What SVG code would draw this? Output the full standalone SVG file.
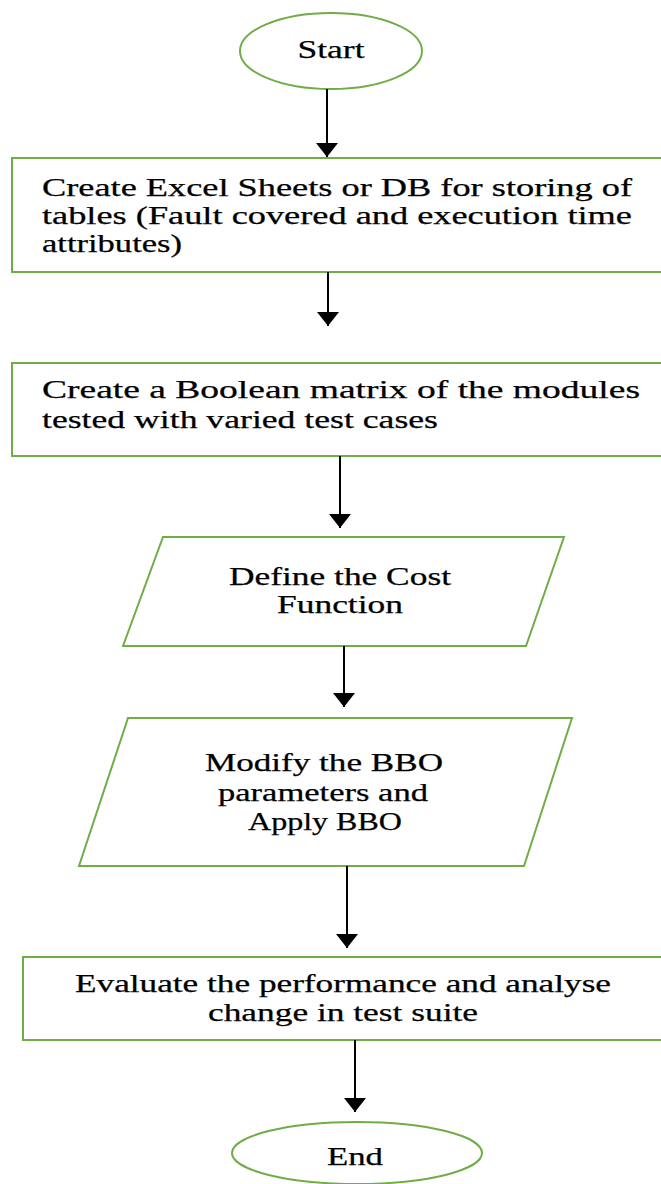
<svg xmlns="http://www.w3.org/2000/svg" width="661" height="1184" viewBox="0 0 661 1184">
  <style>
    .shape { fill: #ffffff; stroke: #70ad47; stroke-width: 2; }
    .label { font-family: "Liberation Serif", "Times New Roman", serif; font-size: 25px; fill: #000000; stroke: #000000; stroke-width: 0.25; }
    .mid { text-anchor: middle; }
    .flow { stroke: #000000; stroke-width: 2; fill: none; marker-end: url(#head); }
  </style>
  <defs>
    <marker id="head" viewBox="0 0 14 22" refX="14" refY="11" markerWidth="14" markerHeight="22" markerUnits="userSpaceOnUse" orient="auto">
      <path d="M0,0 L14,11 L0,22 z" fill="#000000"/>
    </marker>
  </defs>

  <rect width="661" height="1184" fill="#ffffff"/>

  <!-- start terminator -->
  <g id="start">
    <ellipse class="shape" cx="331" cy="51" rx="91" ry="38"/>
    <text class="label mid" x="331" y="58" textLength="67" lengthAdjust="spacingAndGlyphs">Start</text>
  </g>

  <!-- step 1: storage -->
  <g id="create-sheets">
    <rect class="shape" x="12" y="158" width="660" height="114"/>
    <text class="label" x="42" y="196" textLength="590" lengthAdjust="spacingAndGlyphs">Create Excel Sheets or DB for storing of</text>
    <text class="label" x="42" y="224" textLength="590" lengthAdjust="spacingAndGlyphs">tables (Fault covered and execution time</text>
    <text class="label" x="42" y="252" textLength="140" lengthAdjust="spacingAndGlyphs">attributes)</text>
  </g>

  <!-- step 2: boolean matrix -->
  <g id="boolean-matrix">
    <rect class="shape" x="12" y="363" width="660" height="93"/>
    <text class="label" x="42" y="398" textLength="598" lengthAdjust="spacingAndGlyphs">Create a Boolean matrix of the modules</text>
    <text class="label" x="42" y="428" textLength="396" lengthAdjust="spacingAndGlyphs">tested with varied test cases</text>
  </g>

  <!-- step 3: cost function -->
  <g id="cost-function">
    <polygon class="shape" points="163,537 564,537 526,646 123,646"/>
    <text class="label mid" x="340" y="585" textLength="222" lengthAdjust="spacingAndGlyphs">Define the Cost</text>
    <text class="label mid" x="340" y="613" textLength="126" lengthAdjust="spacingAndGlyphs">Function</text>
  </g>

  <!-- step 4: BBO -->
  <g id="apply-bbo">
    <polygon class="shape" points="128,718 572,718 524,866 79,866"/>
    <text class="label mid" x="324" y="771" textLength="238" lengthAdjust="spacingAndGlyphs">Modify the BBO</text>
    <text class="label mid" x="323" y="801" textLength="210" lengthAdjust="spacingAndGlyphs">parameters and</text>
    <text class="label mid" x="325" y="830" textLength="154" lengthAdjust="spacingAndGlyphs">Apply BBO</text>
  </g>

  <!-- step 5: evaluation -->
  <g id="evaluate">
    <rect class="shape" x="23" y="957" width="650" height="83"/>
    <text class="label mid" x="343" y="992" textLength="536" lengthAdjust="spacingAndGlyphs">Evaluate the performance and analyse</text>
    <text class="label mid" x="343" y="1021" textLength="270" lengthAdjust="spacingAndGlyphs">change in test suite</text>
  </g>

  <!-- end terminator -->
  <g id="end">
    <ellipse class="shape" cx="357" cy="1153" rx="125" ry="31"/>
    <text class="label mid" x="355" y="1165" textLength="56" lengthAdjust="spacingAndGlyphs">End</text>
  </g>

  <!-- connectors -->
  <g id="connectors">
    <line class="flow" x1="327" y1="89" x2="327" y2="157"/>
    <line class="flow" x1="328" y1="272" x2="328" y2="326"/>
    <line class="flow" x1="340" y1="456" x2="340" y2="528"/>
    <line class="flow" x1="344" y1="646" x2="344" y2="707"/>
    <line class="flow" x1="347" y1="866" x2="347" y2="948"/>
    <line class="flow" x1="355" y1="1040" x2="355" y2="1112"/>
  </g>
</svg>
